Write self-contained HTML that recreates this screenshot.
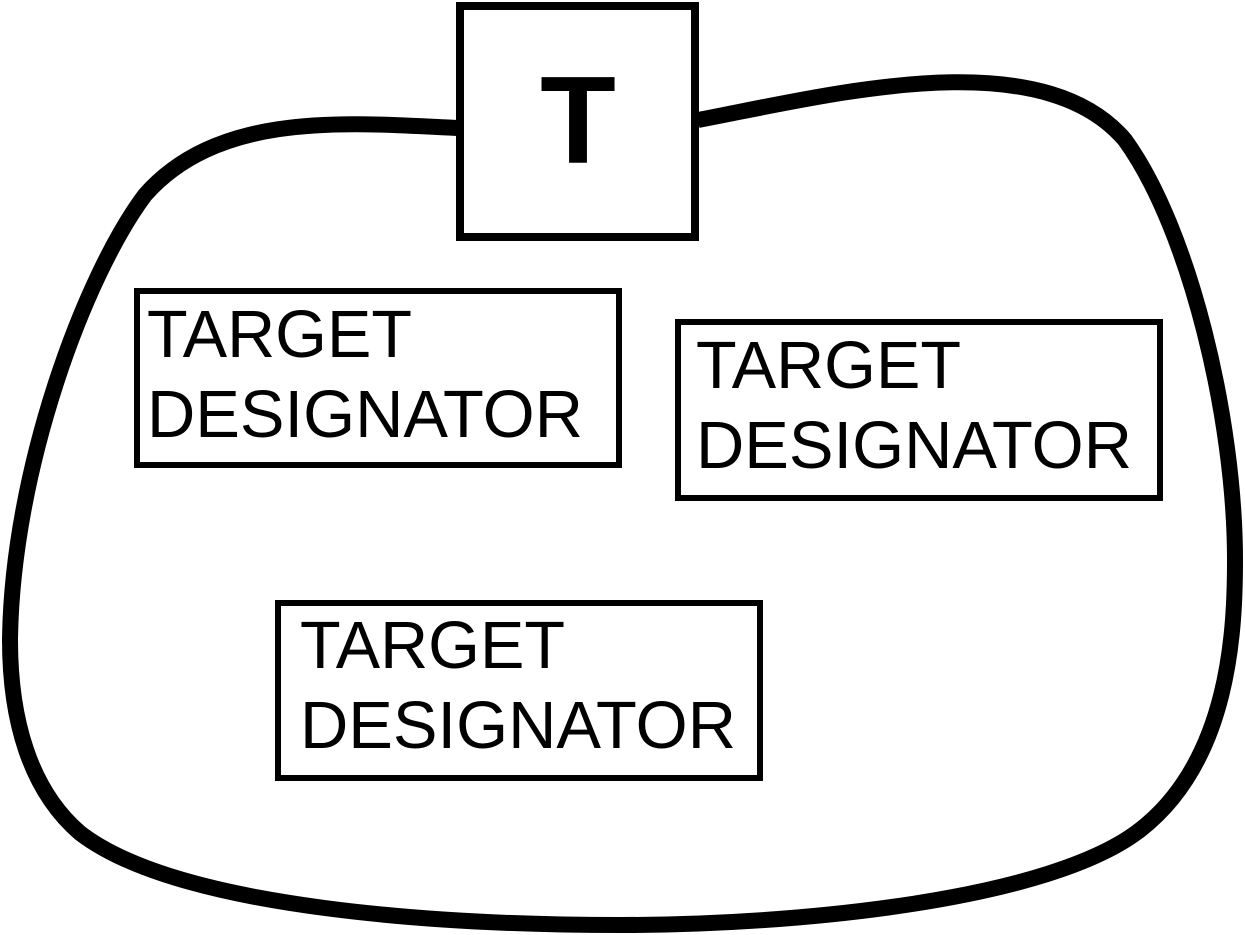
<!DOCTYPE html>
<html><head><meta charset="utf-8"><style>
html,body{margin:0;padding:0;background:#fff;width:1245px;height:935px;overflow:hidden}
svg{display:block}
text{font-family:"Liberation Sans",sans-serif;fill:#000}
</style></head><body>
<svg width="1245" height="935" viewBox="0 0 1245 935">
<path d="M457,128 C350,123 220,110 145,195 C85,275 12,470 10,640 C10,720 30,790 80,833 C180,910 450,925 620,925 C800,925 1050,900 1140,830 C1230,760 1235,630 1235,560 C1235,420 1190,230 1125,140 C1040,40 830,95 698,120" fill="none" stroke="#000" stroke-width="16"/>
<rect x="460" y="6" width="235" height="231" fill="#fff" stroke="#000" stroke-width="8"/>
<text x="578" y="163" font-size="124" font-weight="bold" text-anchor="middle">T</text>
<rect x="137" y="291" width="482" height="174" fill="#fff" stroke="#000" stroke-width="6"/>
<text x="147" y="357" font-size="67" textLength="265" lengthAdjust="spacingAndGlyphs">TARGET</text>
<text x="147" y="437" font-size="67" textLength="436" lengthAdjust="spacingAndGlyphs">DESIGNATOR</text>
<rect x="678" y="322" width="482" height="176" fill="#fff" stroke="#000" stroke-width="6"/>
<text x="696" y="388" font-size="67" textLength="265" lengthAdjust="spacingAndGlyphs">TARGET</text>
<text x="696" y="468" font-size="67" textLength="436" lengthAdjust="spacingAndGlyphs">DESIGNATOR</text>
<rect x="278" y="603" width="482" height="175" fill="#fff" stroke="#000" stroke-width="6"/>
<text x="300" y="668" font-size="67" textLength="265" lengthAdjust="spacingAndGlyphs">TARGET</text>
<text x="300" y="748" font-size="67" textLength="436" lengthAdjust="spacingAndGlyphs">DESIGNATOR</text>
</svg>
</body></html>
